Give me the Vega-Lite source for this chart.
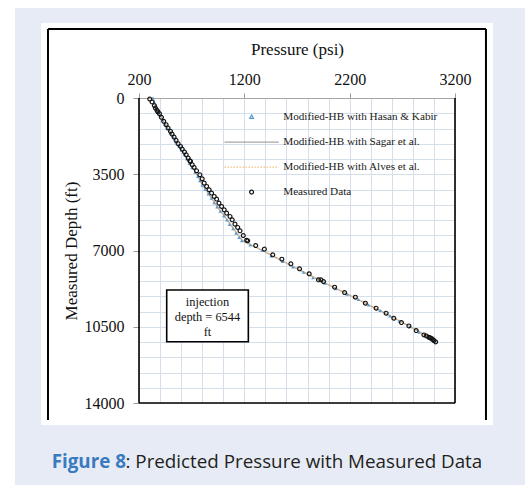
{
  "$schema": "https://vega.github.io/schema/vega-lite/v6.json",
  "width": 316,
  "height": 305,
  "autosize": {"type": "none"},
  "padding": {"left": 139, "top": 98, "right": 70, "bottom": 82},
  "background": "#ffffff",
  "config": {
    "view": {"stroke": null},
    "axis": {
      "labelFont": "Liberation Serif",
      "labelFontSize": 16,
      "labelColor": "#111111",
      "titleFont": "Liberation Serif",
      "titleFontSize": 17,
      "titleFontWeight": "normal",
      "titleColor": "#111111",
      "gridColor": "#d5deeb",
      "gridWidth": 1,
      "tickColor": "#9a9a9a",
      "domainColor": "#a6a6a6",
      "domainWidth": 1.2
    }
  },
  "resolve": {
    "axis": {"x": "independent", "y": "independent"},
    "legend": {"color": "independent", "strokeDash": "independent", "shape": "independent"}
  },
  "datasets": {
    "curves": [
      {"series": "Measured Data", "pressure": 302, "depth": 46},
      {"series": "Measured Data", "pressure": 324, "depth": 183},
      {"series": "Measured Data", "pressure": 346, "depth": 352},
      {"series": "Measured Data", "pressure": 356, "depth": 459},
      {"series": "Measured Data", "pressure": 371, "depth": 567},
      {"series": "Measured Data", "pressure": 380, "depth": 640},
      {"series": "Measured Data", "pressure": 394, "depth": 720},
      {"series": "Measured Data", "pressure": 413, "depth": 888},
      {"series": "Measured Data", "pressure": 435, "depth": 1072},
      {"series": "Measured Data", "pressure": 457, "depth": 1225},
      {"series": "Measured Data", "pressure": 476, "depth": 1378},
      {"series": "Measured Data", "pressure": 499, "depth": 1531},
      {"series": "Measured Data", "pressure": 514, "depth": 1653},
      {"series": "Measured Data", "pressure": 533, "depth": 1791},
      {"series": "Measured Data", "pressure": 552, "depth": 1945},
      {"series": "Measured Data", "pressure": 571, "depth": 2098},
      {"series": "Measured Data", "pressure": 594, "depth": 2222},
      {"series": "Measured Data", "pressure": 610, "depth": 2343},
      {"series": "Measured Data", "pressure": 632, "depth": 2481},
      {"series": "Measured Data", "pressure": 648, "depth": 2604},
      {"series": "Measured Data", "pressure": 667, "depth": 2757},
      {"series": "Measured Data", "pressure": 683, "depth": 2880},
      {"series": "Measured Data", "pressure": 689, "depth": 2911},
      {"series": "Measured Data", "pressure": 705, "depth": 3063},
      {"series": "Measured Data", "pressure": 723, "depth": 3186},
      {"series": "Measured Data", "pressure": 746, "depth": 3339},
      {"series": "Measured Data", "pressure": 778, "depth": 3523},
      {"series": "Measured Data", "pressure": 800, "depth": 3707},
      {"series": "Measured Data", "pressure": 819, "depth": 3905},
      {"series": "Measured Data", "pressure": 842, "depth": 4059},
      {"series": "Measured Data", "pressure": 866, "depth": 4212},
      {"series": "Measured Data", "pressure": 889, "depth": 4365},
      {"series": "Measured Data", "pressure": 914, "depth": 4519},
      {"series": "Measured Data", "pressure": 937, "depth": 4641},
      {"series": "Measured Data", "pressure": 959, "depth": 4825},
      {"series": "Measured Data", "pressure": 984, "depth": 4978},
      {"series": "Measured Data", "pressure": 1009, "depth": 5131},
      {"series": "Measured Data", "pressure": 1032, "depth": 5284},
      {"series": "Measured Data", "pressure": 1064, "depth": 5438},
      {"series": "Measured Data", "pressure": 1085, "depth": 5591},
      {"series": "Measured Data", "pressure": 1111, "depth": 5789},
      {"series": "Measured Data", "pressure": 1137, "depth": 5943},
      {"series": "Measured Data", "pressure": 1159, "depth": 6096},
      {"series": "Measured Data", "pressure": 1190, "depth": 6312},
      {"series": "Measured Data", "pressure": 1222, "depth": 6530},
      {"series": "Measured Data", "pressure": 1232, "depth": 6556},
      {"series": "Measured Data", "pressure": 1308, "depth": 6772},
      {"series": "Measured Data", "pressure": 1390, "depth": 6937},
      {"series": "Measured Data", "pressure": 1470, "depth": 7199},
      {"series": "Measured Data", "pressure": 1556, "depth": 7397},
      {"series": "Measured Data", "pressure": 1642, "depth": 7612},
      {"series": "Measured Data", "pressure": 1724, "depth": 7842},
      {"series": "Measured Data", "pressure": 1816, "depth": 8072},
      {"series": "Measured Data", "pressure": 1904, "depth": 8347},
      {"series": "Measured Data", "pressure": 1927, "depth": 8347},
      {"series": "Measured Data", "pressure": 1952, "depth": 8425},
      {"series": "Measured Data", "pressure": 2057, "depth": 8683},
      {"series": "Measured Data", "pressure": 2152, "depth": 8931},
      {"series": "Measured Data", "pressure": 2254, "depth": 9143},
      {"series": "Measured Data", "pressure": 2349, "depth": 9419},
      {"series": "Measured Data", "pressure": 2451, "depth": 9649},
      {"series": "Measured Data", "pressure": 2546, "depth": 9879},
      {"series": "Measured Data", "pressure": 2619, "depth": 10108},
      {"series": "Measured Data", "pressure": 2692, "depth": 10308},
      {"series": "Measured Data", "pressure": 2762, "depth": 10461},
      {"series": "Measured Data", "pressure": 2832, "depth": 10676},
      {"series": "Measured Data", "pressure": 2905, "depth": 10875},
      {"series": "Measured Data", "pressure": 2927, "depth": 10921},
      {"series": "Measured Data", "pressure": 2952, "depth": 10982},
      {"series": "Measured Data", "pressure": 2965, "depth": 11010},
      {"series": "Measured Data", "pressure": 2978, "depth": 11043},
      {"series": "Measured Data", "pressure": 2990, "depth": 11090},
      {"series": "Measured Data", "pressure": 3000, "depth": 11135},
      {"series": "Measured Data", "pressure": 3016, "depth": 11196},

      {"series": "Modified-HB with Hasan & Kabir", "pressure": 332, "depth": 0},
      {"series": "Modified-HB with Hasan & Kabir", "pressure": 345, "depth": 200},
      {"series": "Modified-HB with Hasan & Kabir", "pressure": 362, "depth": 400},
      {"series": "Modified-HB with Hasan & Kabir", "pressure": 380, "depth": 600},
      {"series": "Modified-HB with Hasan & Kabir", "pressure": 400, "depth": 800},
      {"series": "Modified-HB with Hasan & Kabir", "pressure": 422, "depth": 1000},
      {"series": "Modified-HB with Hasan & Kabir", "pressure": 447, "depth": 1200},
      {"series": "Modified-HB with Hasan & Kabir", "pressure": 472, "depth": 1400},
      {"series": "Modified-HB with Hasan & Kabir", "pressure": 496, "depth": 1600},
      {"series": "Modified-HB with Hasan & Kabir", "pressure": 526, "depth": 1800},
      {"series": "Modified-HB with Hasan & Kabir", "pressure": 550, "depth": 2000},
      {"series": "Modified-HB with Hasan & Kabir", "pressure": 579, "depth": 2200},
      {"series": "Modified-HB with Hasan & Kabir", "pressure": 604, "depth": 2400},
      {"series": "Modified-HB with Hasan & Kabir", "pressure": 632, "depth": 2600},
      {"series": "Modified-HB with Hasan & Kabir", "pressure": 655, "depth": 2800},
      {"series": "Modified-HB with Hasan & Kabir", "pressure": 679, "depth": 3000},
      {"series": "Modified-HB with Hasan & Kabir", "pressure": 703, "depth": 3200},
      {"series": "Modified-HB with Hasan & Kabir", "pressure": 733, "depth": 3400},
      {"series": "Modified-HB with Hasan & Kabir", "pressure": 758, "depth": 3600},
      {"series": "Modified-HB with Hasan & Kabir", "pressure": 778, "depth": 3800},
      {"series": "Modified-HB with Hasan & Kabir", "pressure": 800, "depth": 4000},
      {"series": "Modified-HB with Hasan & Kabir", "pressure": 828, "depth": 4200},
      {"series": "Modified-HB with Hasan & Kabir", "pressure": 858, "depth": 4400},
      {"series": "Modified-HB with Hasan & Kabir", "pressure": 887, "depth": 4600},
      {"series": "Modified-HB with Hasan & Kabir", "pressure": 913, "depth": 4800},
      {"series": "Modified-HB with Hasan & Kabir", "pressure": 941, "depth": 5000},
      {"series": "Modified-HB with Hasan & Kabir", "pressure": 971, "depth": 5200},
      {"series": "Modified-HB with Hasan & Kabir", "pressure": 1006, "depth": 5400},
      {"series": "Modified-HB with Hasan & Kabir", "pressure": 1035, "depth": 5600},
      {"series": "Modified-HB with Hasan & Kabir", "pressure": 1060, "depth": 5800},
      {"series": "Modified-HB with Hasan & Kabir", "pressure": 1093, "depth": 6000},
      {"series": "Modified-HB with Hasan & Kabir", "pressure": 1121, "depth": 6200},
      {"series": "Modified-HB with Hasan & Kabir", "pressure": 1150, "depth": 6400},
      {"series": "Modified-HB with Hasan & Kabir", "pressure": 1176, "depth": 6544},
      {"series": "Modified-HB with Hasan & Kabir", "pressure": 1255, "depth": 6750},
      {"series": "Modified-HB with Hasan & Kabir", "pressure": 1369, "depth": 7000},
      {"series": "Modified-HB with Hasan & Kabir", "pressure": 1453, "depth": 7250},
      {"series": "Modified-HB with Hasan & Kabir", "pressure": 1564, "depth": 7500},
      {"series": "Modified-HB with Hasan & Kabir", "pressure": 1661, "depth": 7750},
      {"series": "Modified-HB with Hasan & Kabir", "pressure": 1762, "depth": 8000},
      {"series": "Modified-HB with Hasan & Kabir", "pressure": 1851, "depth": 8250},
      {"series": "Modified-HB with Hasan & Kabir", "pressure": 1964, "depth": 8500},
      {"series": "Modified-HB with Hasan & Kabir", "pressure": 2069, "depth": 8750},
      {"series": "Modified-HB with Hasan & Kabir", "pressure": 2175, "depth": 9000},
      {"series": "Modified-HB with Hasan & Kabir", "pressure": 2283, "depth": 9250},
      {"series": "Modified-HB with Hasan & Kabir", "pressure": 2379, "depth": 9500},
      {"series": "Modified-HB with Hasan & Kabir", "pressure": 2489, "depth": 9750},
      {"series": "Modified-HB with Hasan & Kabir", "pressure": 2582, "depth": 10000},
      {"series": "Modified-HB with Hasan & Kabir", "pressure": 2670, "depth": 10250},
      {"series": "Modified-HB with Hasan & Kabir", "pressure": 2775, "depth": 10500},
      {"series": "Modified-HB with Hasan & Kabir", "pressure": 2859, "depth": 10750},
      {"series": "Modified-HB with Hasan & Kabir", "pressure": 2960, "depth": 11000},
      {"series": "Modified-HB with Hasan & Kabir", "pressure": 3000, "depth": 11150},

      {"series": "Modified-HB with Sagar et al.", "pressure": 330, "depth": 0},
      {"series": "Modified-HB with Sagar et al.", "pressure": 372, "depth": 500},
      {"series": "Modified-HB with Sagar et al.", "pressure": 424, "depth": 1000},
      {"series": "Modified-HB with Sagar et al.", "pressure": 486, "depth": 1500},
      {"series": "Modified-HB with Sagar et al.", "pressure": 552, "depth": 2000},
      {"series": "Modified-HB with Sagar et al.", "pressure": 620, "depth": 2500},
      {"series": "Modified-HB with Sagar et al.", "pressure": 682, "depth": 3000},
      {"series": "Modified-HB with Sagar et al.", "pressure": 748, "depth": 3500},
      {"series": "Modified-HB with Sagar et al.", "pressure": 804, "depth": 4000},
      {"series": "Modified-HB with Sagar et al.", "pressure": 875, "depth": 4500},
      {"series": "Modified-HB with Sagar et al.", "pressure": 946, "depth": 5000},
      {"series": "Modified-HB with Sagar et al.", "pressure": 1022, "depth": 5500},
      {"series": "Modified-HB with Sagar et al.", "pressure": 1098, "depth": 6000},
      {"series": "Modified-HB with Sagar et al.", "pressure": 1180, "depth": 6544},
      {"series": "Modified-HB with Sagar et al.", "pressure": 1372, "depth": 7000},
      {"series": "Modified-HB with Sagar et al.", "pressure": 1568, "depth": 7500},
      {"series": "Modified-HB with Sagar et al.", "pressure": 1766, "depth": 8000},
      {"series": "Modified-HB with Sagar et al.", "pressure": 1968, "depth": 8500},
      {"series": "Modified-HB with Sagar et al.", "pressure": 2178, "depth": 9000},
      {"series": "Modified-HB with Sagar et al.", "pressure": 2382, "depth": 9500},
      {"series": "Modified-HB with Sagar et al.", "pressure": 2584, "depth": 10000},
      {"series": "Modified-HB with Sagar et al.", "pressure": 2776, "depth": 10500},
      {"series": "Modified-HB with Sagar et al.", "pressure": 2962, "depth": 11000},
      {"series": "Modified-HB with Sagar et al.", "pressure": 3020, "depth": 11200},

      {"series": "Modified-HB with Alves et al.", "pressure": 332, "depth": 0},
      {"series": "Modified-HB with Alves et al.", "pressure": 374, "depth": 500},
      {"series": "Modified-HB with Alves et al.", "pressure": 426, "depth": 1000},
      {"series": "Modified-HB with Alves et al.", "pressure": 488, "depth": 1500},
      {"series": "Modified-HB with Alves et al.", "pressure": 554, "depth": 2000},
      {"series": "Modified-HB with Alves et al.", "pressure": 622, "depth": 2500},
      {"series": "Modified-HB with Alves et al.", "pressure": 684, "depth": 3000},
      {"series": "Modified-HB with Alves et al.", "pressure": 750, "depth": 3500},
      {"series": "Modified-HB with Alves et al.", "pressure": 806, "depth": 4000},
      {"series": "Modified-HB with Alves et al.", "pressure": 877, "depth": 4500},
      {"series": "Modified-HB with Alves et al.", "pressure": 948, "depth": 5000},
      {"series": "Modified-HB with Alves et al.", "pressure": 1024, "depth": 5500},
      {"series": "Modified-HB with Alves et al.", "pressure": 1100, "depth": 6000},
      {"series": "Modified-HB with Alves et al.", "pressure": 1182, "depth": 6544},
      {"series": "Modified-HB with Alves et al.", "pressure": 1375, "depth": 7000},
      {"series": "Modified-HB with Alves et al.", "pressure": 1571, "depth": 7500},
      {"series": "Modified-HB with Alves et al.", "pressure": 1769, "depth": 8000},
      {"series": "Modified-HB with Alves et al.", "pressure": 1971, "depth": 8500},
      {"series": "Modified-HB with Alves et al.", "pressure": 2181, "depth": 9000},
      {"series": "Modified-HB with Alves et al.", "pressure": 2385, "depth": 9500},
      {"series": "Modified-HB with Alves et al.", "pressure": 2587, "depth": 10000},
      {"series": "Modified-HB with Alves et al.", "pressure": 2779, "depth": 10500},
      {"series": "Modified-HB with Alves et al.", "pressure": 2965, "depth": 11000},
      {"series": "Modified-HB with Alves et al.", "pressure": 3023, "depth": 11200}
    ]
  },
  "layer": [
    {
      "data": {"values": [{}]},
      "layer": [
        {
          "mark": {"type": "rect", "color": "#e7ebf5"},
          "encoding": {
            "x": {"datum": -977, "type": "quantitative", "axis": null},
            "x2": {"datum": 3900},
            "y": {"datum": -4131, "type": "quantitative", "axis": null},
            "y2": {"datum": -3443}
          }
        },
        {
          "mark": {"type": "rect", "color": "#e7ebf5"},
          "encoding": {
            "x": {"datum": -977, "type": "quantitative", "axis": null},
            "x2": {"datum": 3900},
            "y": {"datum": 15010, "type": "quantitative", "axis": null},
            "y2": {"datum": 18000}
          }
        },
        {
          "mark": {"type": "rect", "color": "#e7ebf5"},
          "encoding": {
            "x": {"datum": -977, "type": "quantitative", "axis": null},
            "x2": {"datum": -730},
            "y": {"datum": -3443, "type": "quantitative", "axis": null},
            "y2": {"datum": 15010}
          }
        },
        {
          "mark": {"type": "rect", "color": "#e7ebf5"},
          "encoding": {
            "x": {"datum": 3561, "type": "quantitative", "axis": null},
            "x2": {"datum": 3900},
            "y": {"datum": -3443, "type": "quantitative", "axis": null},
            "y2": {"datum": 15010}
          }
        },
        {
          "mark": {"type": "rule", "color": "#000000", "strokeWidth": 2},
          "encoding": {
            "x": {"datum": -664, "type": "quantitative", "axis": null},
            "y": {"datum": -3167, "type": "quantitative", "axis": null},
            "y2": {"datum": 14780}
          }
        },
        {
          "mark": {"type": "rule", "color": "#000000", "strokeWidth": 2},
          "encoding": {
            "x": {"datum": 3494, "type": "quantitative", "axis": null},
            "y": {"datum": -3167, "type": "quantitative", "axis": null},
            "y2": {"datum": 14780}
          }
        },
        {
          "mark": {"type": "rule", "color": "#000000", "strokeWidth": 2},
          "encoding": {
            "x": {"datum": -664, "type": "quantitative", "axis": null},
            "x2": {"datum": 3494},
            "y": {"datum": -3167, "type": "quantitative", "axis": null}
          }
        },
        {
          "mark": {"type": "rule", "color": "#000000", "strokeWidth": 1.6},
          "encoding": {
            "x": {"datum": 200, "type": "quantitative", "axis": null},
            "y": {"datum": 0, "type": "quantitative", "axis": null},
            "y2": {"datum": 14000}
          }
        },
        {
          "mark": {"type": "rule", "color": "#000000", "strokeWidth": 1.6},
          "encoding": {
            "x": {"datum": 3200, "type": "quantitative", "axis": null},
            "y": {"datum": 0, "type": "quantitative", "axis": null},
            "y2": {"datum": 14000}
          }
        },
        {
          "mark": {"type": "rule", "color": "#000000", "strokeWidth": 1.6},
          "encoding": {
            "x": {"datum": 200, "type": "quantitative", "axis": null},
            "x2": {"datum": 3200},
            "y": {"datum": 14000, "type": "quantitative", "axis": null}
          }
        }
      ]
    },
    {
      "data": {"name": "curves"},
      "transform": [{"filter": "datum.series === 'Modified-HB with Sagar et al.' || datum.series === 'Modified-HB with Alves et al.'"}],
      "mark": {"type": "line", "strokeWidth": 1.3},
      "encoding": {
        "x": {"field": "pressure", "type": "quantitative", "scale": {"domain": [200, 3200], "nice": false, "zero": false}, "axis": null},
        "y": {"field": "depth", "type": "quantitative", "scale": {"domain": [0, 14000], "nice": false, "zero": false, "reverse": true}, "axis": null},
        "order": {"field": "depth"},
        "color": {
          "field": "series", "type": "nominal",
          "scale": {
            "domain": ["Modified-HB with Hasan & Kabir", "Modified-HB with Sagar et al.", "Modified-HB with Alves et al.", "Measured Data"],
            "range": ["#5b9bd5", "#a6a6a6", "#f4c17a", "#111111"]
          },
          "legend": null
        },
        "strokeDash": {
          "field": "series", "type": "nominal",
          "scale": {
            "domain": ["Modified-HB with Hasan & Kabir", "Modified-HB with Sagar et al.", "Modified-HB with Alves et al.", "Measured Data"],
            "range": [[1, 0], [1, 0], [1.5, 1.5], [1, 0]]
          },
          "legend": null
        }
      }
    },
    {
      "data": {"name": "curves"},
      "transform": [{"filter": "datum.series === 'Modified-HB with Hasan & Kabir'"}],
      "mark": {"type": "point", "shape": "triangle-up", "filled": true, "size": 13, "opacity": 1},
      "encoding": {
        "x": {"field": "pressure", "type": "quantitative", "scale": {"domain": [200, 3200], "nice": false, "zero": false}, "axis": null},
        "y": {"field": "depth", "type": "quantitative", "scale": {"domain": [0, 14000], "nice": false, "zero": false, "reverse": true}, "axis": null},
        "color": {
          "field": "series", "type": "nominal",
          "scale": {
            "domain": ["Modified-HB with Hasan & Kabir", "Modified-HB with Sagar et al.", "Modified-HB with Alves et al.", "Measured Data"],
            "range": ["#5b9bd5", "#a6a6a6", "#f4c17a", "#111111"]
          },
          "legend": null
        }
      }
    },
    {
      "data": {"name": "curves"},
      "transform": [{"filter": "datum.series === 'Measured Data'"}],
      "mark": {"type": "point", "filled": false, "size": 15, "strokeWidth": 1.15, "opacity": 1},
      "encoding": {
        "x": {
          "field": "pressure", "type": "quantitative",
          "scale": {"domain": [200, 3200], "nice": false, "zero": false},
          "axis": {
            "orient": "top",
            "title": "Pressure (psi)",
            "titlePadding": 13,
            "values": [200, 400, 600, 800, 1000, 1200, 1400, 1600, 1800, 2000, 2200, 2400, 2600, 2800, 3000, 3200],
            "format": "d",
            "labelExpr": "datum.value % 1000 === 200 ? datum.label : ''",
            "labelFlush": false,
            "labelOverlap": false,
            "labelPadding": 6,
            "tickSize": 5,
            "tickOpacity": {"condition": {"test": "datum.value % 1000 === 200", "value": 1}, "value": 0},
            "grid": true,
            "domain": true
          }
        },
        "y": {
          "field": "depth", "type": "quantitative",
          "scale": {"domain": [0, 14000], "nice": false, "zero": false, "reverse": true},
          "axis": {
            "orient": "left",
            "title": "Measured Depth (ft)",
            "titlePadding": 4,
            "values": [0, 700, 1400, 2100, 2800, 3500, 4200, 4900, 5600, 6300, 7000, 7700, 8400, 9100, 9800, 10500, 11200, 11900, 12600, 13300, 14000],
            "format": "d",
            "labelExpr": "datum.value % 3500 === 0 ? datum.label : ''",
            "labelFlush": false,
            "labelOverlap": false,
            "labelPadding": 9,
            "tickSize": 6,
            "tickOpacity": {"condition": {"test": "datum.value % 3500 === 0", "value": 1}, "value": 0},
            "domain": false,
            "grid": true
          }
        },
        "shape": {
          "field": "series", "type": "nominal",
          "scale": {
            "domain": ["Modified-HB with Hasan & Kabir", "Modified-HB with Sagar et al.", "Modified-HB with Alves et al.", "Measured Data"],
            "range": ["M0,-1.1L1,0.7L-1,0.7Z", "M-14,0H14", "M-14,0H14", "M1,0A1,1 0 1 1 -1,0A1,1 0 1 1 1,0Z"]
          }
        },
        "strokeDash": {
          "field": "series", "type": "nominal",
          "scale": {
            "domain": ["Modified-HB with Hasan & Kabir", "Modified-HB with Sagar et al.", "Modified-HB with Alves et al.", "Measured Data"],
            "range": [[1, 0], [1, 0], [1.5, 1.5], [1, 0]]
          }
        },
        "color": {
          "field": "series", "type": "nominal",
          "scale": {
            "domain": ["Modified-HB with Hasan & Kabir", "Modified-HB with Sagar et al.", "Modified-HB with Alves et al.", "Measured Data"],
            "range": ["#5b9bd5", "#a6a6a6", "#f4c17a", "#111111"]
          },
          "legend": {
            "title": null,
            "orient": "none",
            "legendX": 107,
            "legendY": 13.5,
            "direction": "vertical",
            "padding": 0,
            "symbolSize": 15,
            "symbolStrokeWidth": 1.2,
            "labelFont": "Liberation Serif",
            "labelFontSize": 11.2,
            "labelColor": "#1a1a1a",
            "labelOffset": 26,
            "labelLimit": 300,
            "rowPadding": 13
          }
        }
      }
    },
    {
      "data": {"values": [{"note": ["injection", "depth = 6544", "ft"]}]},
      "layer": [
        {
          "mark": {"type": "rect", "fill": "#ffffff", "stroke": "#000000", "strokeWidth": 1.6},
          "encoding": {
            "x": {"datum": 463, "type": "quantitative", "axis": null},
            "x2": {"datum": 1238},
            "y": {"datum": 8813, "type": "quantitative", "axis": null},
            "y2": {"datum": 11186}
          }
        },
        {
          "mark": {"type": "text", "font": "Liberation Serif", "fontSize": 12.4, "color": "#111111", "align": "center", "baseline": "middle", "lineHeight": 14.7},
          "encoding": {
            "x": {"datum": 850, "type": "quantitative", "axis": null},
            "y": {"datum": 9378, "type": "quantitative", "axis": null},
            "text": {"field": "note"}
          }
        }
      ]
    },
    {
      "data": {"values": [{"lead": "Figure 8", "rest": ": Predicted Pressure with Measured Data"}]},
      "layer": [
        {
          "mark": {"type": "text", "font": "Open Sans", "fontSize": 18.8, "fontWeight": "bold", "color": "#3a7bbf", "align": "left", "baseline": "middle"},
          "encoding": {
            "x": {"datum": -629, "type": "quantitative", "axis": null},
            "y": {"datum": 16731, "type": "quantitative", "axis": null},
            "text": {"field": "lead"}
          }
        },
        {
          "mark": {"type": "text", "font": "Open Sans", "fontSize": 18.8, "color": "#231f20", "align": "left", "baseline": "middle"},
          "encoding": {
            "x": {"datum": 72, "type": "quantitative", "axis": null},
            "y": {"datum": 16731, "type": "quantitative", "axis": null},
            "text": {"field": "rest"}
          }
        }
      ]
    }
  ]
}
